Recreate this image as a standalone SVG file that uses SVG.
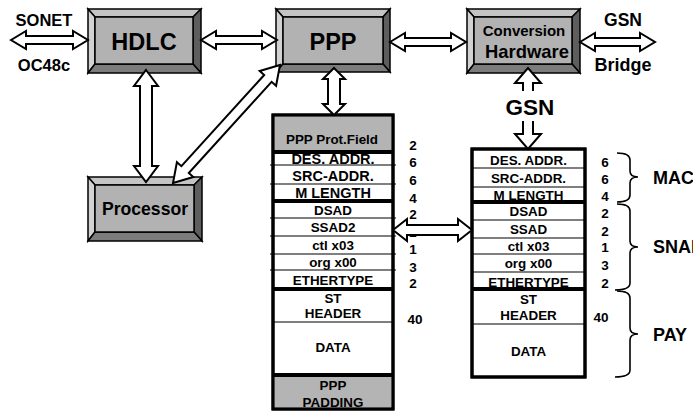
<svg xmlns="http://www.w3.org/2000/svg" width="693" height="412" viewBox="0 0 693 412">
<style>
text{font-family:"Liberation Sans",Arial,sans-serif;font-weight:bold;fill:#000;text-anchor:middle}
.bt{fill:#c4c4c4;stroke:#000;stroke-width:1.5}
.bl{fill:#d2d2d2;stroke:#000;stroke-width:1.5}
.br{fill:#5e5e5e;stroke:#000;stroke-width:1.5}
.bb{fill:#7c7c7c;stroke:#000;stroke-width:1.5}
.face{fill:#b2b2b2;stroke:#000;stroke-width:1.5}
.arr{fill:#fff;stroke:#000;stroke-width:2;stroke-linejoin:miter}
.thin{stroke:#000;stroke-width:1.2}
.thick{stroke:#000;stroke-width:4}
.frame{fill:#fff;stroke:#000;stroke-width:3}
.gray{fill:#b4b4b4}
.brace{fill:none;stroke:#000;stroke-width:1.6}
.lbl{font-size:16.5px}
.cell{font-size:13.4px}
.cellb{font-size:14.5px}
.num{font-size:13.5px}
</style>

<g id="hdlc">
<polygon class="bt" points="88,9 201,9 193,17 95,17"/>
<polygon class="bl" points="88,9 95,17 95,64 88,73"/>
<polygon class="br" points="201,9 201,73 193,64 193,17"/>
<polygon class="bb" points="88,73 95,64 193,64 201,73"/>
<rect class="face" x="95" y="17" width="98" height="47"/>
<text x="144" y="50" style="font-size:23.5px">HDLC</text>
</g>

<g id="ppp">
<polygon class="bt" points="276,9 390,9 383,17 283,17"/>
<polygon class="bl" points="276,9 283,17 283,64 276,72"/>
<polygon class="br" points="390,9 390,72 383,64 383,17"/>
<polygon class="bb" points="276,72 283,64 383,64 390,72"/>
<rect class="face" x="283" y="17" width="100" height="47"/>
<text x="333" y="50" style="font-size:23.5px">PPP</text>
</g>

<g id="conversion">
<polygon class="bt" points="467,9 580,9 572,17 474,17"/>
<polygon class="bl" points="467,9 474,17 474,64 467,73"/>
<polygon class="br" points="580,9 580,73 572,64 572,17"/>
<polygon class="bb" points="467,73 474,64 572,64 580,73"/>
<rect class="face" x="474" y="17" width="98" height="47"/>
<text x="524" y="36" style="font-size:15px">Conversion</text>
<text x="527" y="58" style="font-size:18.4px">Hardware</text>
</g>

<g id="processor">
<polygon class="bt" points="88,177 202,177 194,185 95,185"/>
<polygon class="bl" points="88,177 95,185 95,232 88,241"/>
<polygon class="br" points="202,177 202,241 194,232 194,185"/>
<polygon class="bb" points="88,241 95,232 194,232 202,241"/>
<rect class="face" x="95" y="185" width="99" height="47"/>
<text x="145" y="215" style="font-size:17.6px">Processor</text>
</g>

<g id="labels">
<text class="lbl" x="44" y="26">SONET</text>
<text class="lbl" x="44" y="71">OC48c</text>
<text x="623" y="26" style="font-size:17.5px">GSN</text>
<text x="623" y="71" style="font-size:18px">Bridge</text>
<text x="530" y="115" style="font-size:22.5px">GSN</text>
</g>

<g id="ppp-frame">
<rect class="frame" x="273" y="115" width="120" height="294"/>
<rect class="gray" x="274.5" y="116.5" width="117" height="35.5"/>
<rect class="gray" x="274.5" y="375" width="117" height="32.5"/>
<line class="thin" x1="270" y1="165" x2="396" y2="165"/>
<line class="thin" x1="270" y1="184" x2="396" y2="184"/>
<line class="thin" x1="270" y1="218" x2="396" y2="218"/>
<line class="thin" x1="270" y1="236" x2="396" y2="236"/>
<line class="thin" x1="270" y1="254" x2="396" y2="254"/>
<line class="thin" x1="270" y1="270" x2="396" y2="270"/>
<line class="thin" x1="273" y1="322" x2="393" y2="322"/>
<line class="thick" x1="273" y1="152" x2="393" y2="152"/>
<line class="thick" x1="273" y1="201" x2="393" y2="201"/>
<line class="thick" x1="273" y1="289" x2="393" y2="289"/>
<line class="thick" x1="273" y1="375" x2="393" y2="375"/>
<rect x="273" y="115" width="120" height="294" fill="none" stroke="#000" stroke-width="3"/>
<text class="cell" x="332" y="144">PPP Prot.Field</text>
<text class="cellb" x="333" y="164">DES. ADDR.</text>
<text class="cellb" x="333" y="181">SRC-ADDR.</text>
<text class="cellb" x="333" y="198">M LENGTH</text>
<text class="cell" x="333" y="215">DSAD</text>
<text class="cell" x="333" y="232">SSAD2</text>
<text class="cell" x="333" y="250">ctl x03</text>
<text class="cell" x="333" y="267">org x00</text>
<text class="cell" x="333" y="285">ETHERTYPE</text>
<text class="cell" x="333" y="303">ST</text>
<text class="cell" x="333" y="318">HEADER</text>
<text class="cell" x="333" y="352">DATA</text>
<text class="cell" x="333" y="390">PPP</text>
<text class="cell" x="333" y="407">PADDING</text>
<text class="num" x="413" y="150">2</text>
<text class="num" x="413" y="167">6</text>
<text class="num" x="413" y="185">6</text>
<text class="num" x="413" y="203">4</text>
<text class="num" x="413" y="219">2</text>
<text class="num" x="413" y="237">2</text>
<text class="num" x="413" y="254">1</text>
<text class="num" x="413" y="272">3</text>
<text class="num" x="413" y="288">2</text>
<text class="num" x="415" y="324">40</text>
</g>

<g id="gsn-frame">
<rect class="frame" x="472" y="149" width="113" height="228"/>
<line class="thin" x1="472" y1="168" x2="585" y2="168"/>
<line class="thin" x1="472" y1="187" x2="585" y2="187"/>
<line class="thin" x1="472" y1="220" x2="585" y2="220"/>
<line class="thin" x1="472" y1="238" x2="585" y2="238"/>
<line class="thin" x1="472" y1="254" x2="585" y2="254"/>
<line class="thin" x1="472" y1="272" x2="585" y2="272"/>
<line class="thin" x1="472" y1="324" x2="585" y2="324"/>
<text class="cell" x="528.5" y="165">DES. ADDR.</text>
<text class="cell" x="528.5" y="183">SRC-ADDR.</text>
<text class="cell" x="528.5" y="200">M LENGTH</text>
<line class="thick" x1="472" y1="202" x2="585" y2="202"/>
<line class="thick" x1="472" y1="289" x2="585" y2="289"/>
<rect x="472" y="149" width="113" height="228" fill="none" stroke="#000" stroke-width="3"/>
<text class="cell" x="528.5" y="216">DSAD</text>
<text class="cell" x="528.5" y="234">SSAD</text>
<text class="cell" x="528.5" y="251">ctl x03</text>
<text class="cell" x="528.5" y="268">org x00</text>
<text class="cell" x="528.5" y="287">ETHERTYPE</text>
<text class="cell" x="528.5" y="304">ST</text>
<text class="cell" x="528.5" y="320">HEADER</text>
<text class="cell" x="528.5" y="356">DATA</text>
<text class="num" x="605" y="167">6</text>
<text class="num" x="605" y="184">6</text>
<text class="num" x="605" y="201">4</text>
<text class="num" x="605" y="218">2</text>
<text class="num" x="605" y="236">2</text>
<text class="num" x="605" y="252">1</text>
<text class="num" x="605" y="270">3</text>
<text class="num" x="605" y="288">2</text>
<text class="num" x="601" y="322">40</text>
</g>

<g id="braces">
<path class="brace" d="M617,153 Q630,153 630,160 L630,171 Q630,177 638,177 Q630,177 630,183 L630,195 Q630,202 617,202"/>
<path class="brace" d="M617,204 Q630,204 630,211 L630,241 Q630,247 638,247 Q630,247 630,253 L630,283 Q630,290 615,290"/>
<path class="brace" d="M617,291 Q630,291 630,298 L630,328 Q630,334 638,334 Q630,334 630,340 L630,370 Q630,377 615,377"/>
<text x="653" y="184" style="font-size:18px;text-anchor:start">MAC</text>
<text x="653" y="253" style="font-size:18px;text-anchor:start">SNAP</text>
<text x="653" y="341" style="font-size:18px;text-anchor:start">PAY</text>
</g>

<g id="connectors">
<polygon class="arr" points="11,40 26,31 26,36 73,36 73,31 88,40 73,49 73,44 26,44 26,49"/>
<polygon class="arr" points="201,40 216,31 216,36 262,36 262,31 277,40 262,49 262,44 216,44 216,49"/>
<polygon class="arr" points="390,42 405,33 405,38 451,38 451,33 466,42 451,51 451,46 405,46 405,51"/>
<polygon class="arr" points="580,42 595,33 595,38 640,38 640,33 655,42 640,51 640,46 595,46 595,51"/>
<polygon class="arr" points="146,70 158,86 152,86 152,166 158,166 146,182 134,166 140,166 140,86 134,86"/>
<polygon class="arr" points="173,183 193.3,177 188.8,173 271.6,81.8 276.1,85.8 280,65 259.7,71 264.2,75 181.4,166.2 176.9,162.2"/>
<polygon class="arr" points="334,68 345,79 340,79 340,104 345,104 334,115 323,104 328,104 328,79 323,79"/>
<polygon class="arr" points="393,230 407,219 407,225 458,225 458,219 472,230 458,241 458,235 407,235 407,241"/>
<polyline class="arr" points="523,91 523,83 515,83 528,68 541,83 533,83 533,91"/>
<polyline class="arr" points="523,121 523,134 515,134 528,149 541,134 533,134 533,121"/>
</g>
</svg>
